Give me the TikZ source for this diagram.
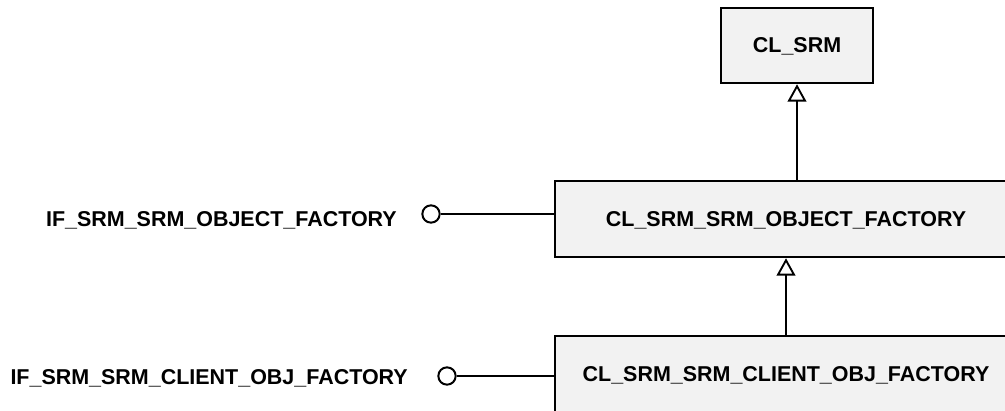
\documentclass[tikz,border=0pt]{standalone}
\usepackage{fontspec}
\setmainfont{Liberation Sans}
\usetikzlibrary{arrows.meta}
\definecolor{ink}{HTML}{000000}
\definecolor{boxfill}{HTML}{F2F2F2}

\begin{document}
\begin{tikzpicture}[x=0.75pt,y=-0.75pt,
  cls/.style={draw=ink,fill=boxfill,line width=1.9pt,inner sep=0pt,text depth=0pt,
    font=\fontsize{16.1}{19}\selectfont\bfseries},
  iface/.style={draw=ink,fill=white,circle,minimum size=13pt,inner sep=0pt,line width=1.5pt},
  lbl/.style={inner sep=0pt,anchor=base east,font=\fontsize{16.1}{19}\selectfont\bfseries},
  conn/.style={draw=ink,line width=1.4pt},
  inherit/.style={conn,-{Triangle[open,length=13pt,width=14pt]}}]
  \useasboundingbox (0,0) rectangle (1005,410);
  \clip (0,0) rectangle (1005,410);
  \node[cls,minimum width=114pt,minimum height=56.25pt] (srm) at (797,45.5) {CL\_SRM};
  \node[cls,minimum width=346.5pt,minimum height=57pt] (objfac) at (786,219) {CL\_SRM\_SRM\_OBJECT\_FACTORY};
  \node[cls,minimum width=346.5pt,minimum height=57pt] (clifac) at (786,374) {CL\_SRM\_SRM\_CLIENT\_OBJ\_FACTORY};
  \node[iface] (ifobj) at (431,214) {};
  \node[iface] (ifcli) at (447,376) {};
  \node[lbl] (ifobjlbl) at (397,226.5) {IF\_SRM\_SRM\_OBJECT\_FACTORY};
  \node[lbl] (ifclilbl) at (408,384.5) {IF\_SRM\_SRM\_CLIENT\_OBJ\_FACTORY};
  \draw[inherit] (objfac.north -| srm.south) -- (srm.south);
  \draw[inherit] (clifac.north) -- (objfac.south);
  \draw[conn] (ifobj) -- (ifobj -| objfac.west);
  \draw[conn] (ifcli) -- (ifcli -| clifac.west);
\end{tikzpicture}
\end{document}
